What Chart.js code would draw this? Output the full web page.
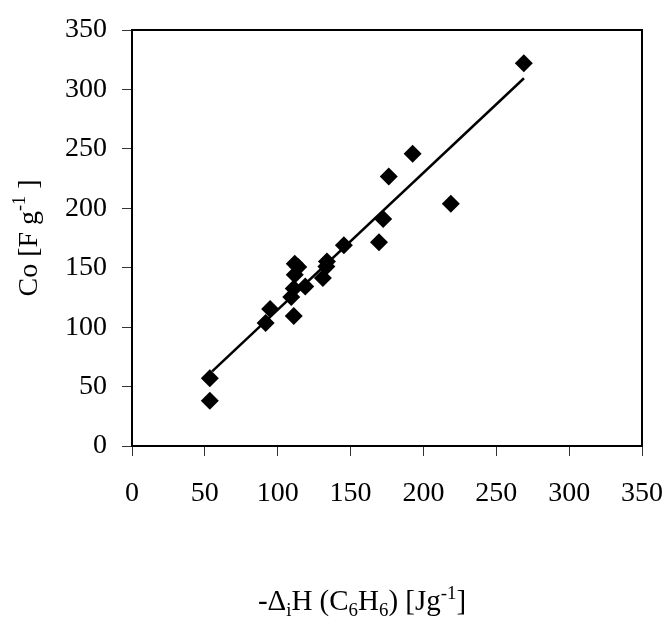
<!DOCTYPE html>
<html>
<head>
<meta charset="utf-8">
<script src="https://cdn.jsdelivr.net/npm/chart.js@4/dist/chart.umd.min.js"></script>
<style>
  body { margin: 0; background: #fff; }
  canvas { display: block; }
</style>
</head>
<body>
<canvas id="co_chart" width="672" height="633"></canvas>
<script>
// data
const heat_values = [53.4, 53.4, 91.7, 94.8, 111, 109.3, 111, 111.7, 111.7, 114.1, 118.9, 131, 133.4, 133.8, 145.4, 169.5, 172.4, 176.2, 192.6, 218.8, 268.9];
const co_values = [56.9, 38.1, 103.4, 115.2, 109.3, 125.3, 132.6, 144.1, 153.3, 150.5, 134.2, 141.3, 151.1, 155.3, 169, 171.5, 190.9, 226.7, 245.8, 203.8, 322];

// trend line ends
const fit_x = [55, 269];
const fit_y = [62.8, 309.4];

// axis ticks
const axis_min = 0;
const axis_max = 350;
const axis_step = 50;

const serif = "'Liberation Serif', 'Times New Roman', serif";
const ctx = document.getElementById("co_chart").getContext("2d");

const points = heat_values.map((x, i) => ({ x: x, y: co_values[i] }));
const fit_points = fit_x.map((x, i) => ({ x: x, y: fit_y[i] }));

// draws text made of runs (normal, sub, sup) centred on 0
function drawRuns(c, runs, size) {
    let total = 0;
    runs.forEach((r) => {
        c.font = (r.small ? size * 0.65 : size) + "px " + serif;
        total += c.measureText(r.text).width;
    });
    let x = -total / 2;
    runs.forEach((r) => {
        c.font = (r.small ? size * 0.65 : size) + "px " + serif;
        c.fillText(r.text, x, r.dy || 0);
        x += c.measureText(r.text).width;
    });
}

const box_and_titles = {
    id: "box_and_titles",
    afterDraw(chart) {
        const c = chart.ctx;
        const a = chart.chartArea;
        c.save();
        c.strokeStyle = "#000";
        c.lineWidth = 2;
        c.strokeRect(a.left, a.top, a.right - a.left, a.bottom - a.top);

        c.fillStyle = "#000";
        c.textAlign = "left";
        c.textBaseline = "alphabetic";

        // x title
        c.save();
        c.translate(362, 610);
        drawRuns(c, [
            { text: "-\u0394" },
            { text: "i", small: true, dy: 6 },
            { text: "H (C" },
            { text: "6", small: true, dy: 6 },
            { text: "H" },
            { text: "6", small: true, dy: 6 },
            { text: ") [Jg" },
            { text: "-1", small: true, dy: -11 },
            { text: "]" },
        ], 29);
        c.restore();

        // y title
        c.save();
        c.translate(37, (a.top + a.bottom) / 2);
        c.rotate(-Math.PI / 2);
        drawRuns(c, [
            { text: "Co [F g" },
            { text: "-1", small: true, dy: -12 },
            { text: " ]" },
        ], 28);
        c.restore();

        c.restore();
    },
};

function axisOptions(pad) {
    return {
        type: "linear",
        min: axis_min,
        max: axis_max,
        ticks: {
            stepSize: axis_step,
            color: "#000",
            padding: pad,
            font: { family: serif, size: 28 },
        },
        grid: {
            display: true,
            drawOnChartArea: false,
            drawTicks: true,
            tickLength: 10,
            color: "#333",
            lineWidth: 1,
        },
        border: { display: true, color: "#000", width: 2 },
    };
}

const x_axis = axisOptions(21);
x_axis.afterFit = (scale) => {
    scale.height = 187;
    scale.paddingLeft = 0;
    scale.paddingRight = 0;
};
const y_axis = axisOptions(15);
y_axis.afterFit = (scale) => {
    scale.width = 132;
    scale.paddingTop = 0;
    scale.paddingBottom = 0;
};

new Chart(ctx, {
    type: "scatter",
    data: {
        datasets: [
            {
                label: "Co",
                data: points,
                pointStyle: "rectRot",
                pointRadius: 9,
                pointHoverRadius: 9,
                backgroundColor: "#000",
                borderColor: "#000",
                borderWidth: 0,
            },
            {
                label: "fit",
                data: fit_points,
                showLine: true,
                pointRadius: 0,
                borderColor: "#000",
                borderWidth: 2.5,
            },
        ],
    },
    options: {
        responsive: false,
        animation: false,
        layout: { padding: { top: 30, right: 30, left: 0, bottom: 0 } },
        plugins: {
            legend: { display: false },
            tooltip: { enabled: false },
        },
        scales: {
            x: x_axis,
            y: y_axis,
        },
    },
    plugins: [box_and_titles],
});
</script>
</body>
</html>
